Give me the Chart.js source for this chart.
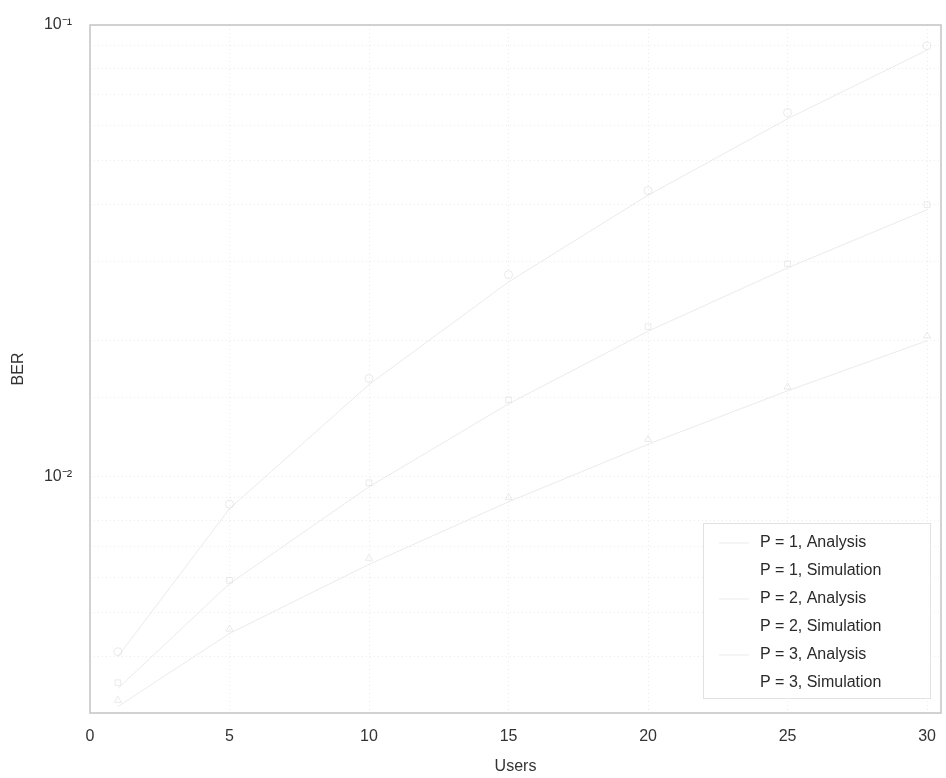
<!DOCTYPE html>
<html>
<head>
<meta charset="utf-8">
<script src="https://cdn.jsdelivr.net/npm/chart.js@4/dist/chart.umd.min.js"></script>
<style>
html,body{margin:0;padding:0;background:#fff;}
#wrap{width:946px;height:778px;}
</style>
</head>
<body>
<div id="wrap"><canvas id="c" width="946" height="778"></canvas></div>
<script>
const users = [1, 5, 10, 15, 20, 25, 30];
const p1Analysis   = [0.0040, 0.0085, 0.0160, 0.0270, 0.0420, 0.0620, 0.0880];
const p1Simulation = [0.0041, 0.0087, 0.0165, 0.0280, 0.0430, 0.0640, 0.0900];
const p2Analysis   = [0.0034, 0.0058, 0.0095, 0.0145, 0.0210, 0.0290, 0.0390];
const p2Simulation = [0.0035, 0.0059, 0.0097, 0.0148, 0.0215, 0.0296, 0.0400];
const p3Analysis   = [0.0031, 0.0045, 0.0064, 0.0088, 0.0118, 0.0155, 0.0200];
const p3Simulation = [0.0032, 0.0046, 0.0066, 0.0090, 0.0121, 0.0158, 0.0205];
const seriesNames = ['P = 1, Analysis','P = 1, Simulation','P = 2, Analysis','P = 2, Simulation','P = 3, Analysis','P = 3, Simulation'];
const xTicks = [0, 5, 10, 15, 20, 25, 30];
const yTickLabels = {0.1: '10⁻¹', 0.01: '10⁻²'};

const seriesValues = [p1Analysis, p1Simulation, p2Analysis, p2Simulation, p3Analysis, p3Simulation];
const lineColor = 'rgba(215,215,215,0.5)';
const datasets = seriesValues.map((vals, i) => {
  const sim = i % 2 === 1;
  return {
    label: seriesNames[i],
    data: users.map((u, k) => ({x: u, y: vals[k]})),
    borderColor: lineColor,
    backgroundColor: 'rgba(0,0,0,0)',
    borderWidth: 1,
    showLine: !sim,
    pointRadius: sim ? 4 : 0,
    pointStyle: ['circle','rect','triangle'][Math.floor(i/2)],
    pointBorderColor: lineColor,
    pointBorderWidth: 1
  };
});

const FONT = '"Liberation Sans", Arial, sans-serif';

const framePlugin = {
  id: 'frame',
  afterDraw(chart) {
    const ctx = chart.ctx, a = chart.chartArea;
    ctx.save();
    ctx.strokeStyle = '#c4c4c4';
    ctx.lineWidth = 1.5;
    ctx.strokeRect(a.left, a.top, a.right - a.left, a.bottom - a.top);
    // legend
    const bx = a.right - 238, by = a.bottom - 190, bw = 227, bh = 175;
    ctx.fillStyle = '#fff';
    ctx.fillRect(bx, by, bw, bh);
    ctx.strokeStyle = '#e2e2e2';
    ctx.lineWidth = 1;
    ctx.strokeRect(bx + 0.5, by + 0.5, bw, bh);
    ctx.font = '16px ' + FONT;
    ctx.textBaseline = 'middle';
    chart.data.datasets.forEach((ds, i) => {
      const y = by + 20 + i * 28;
      ctx.strokeStyle = ds.borderColor;
      if (ds.showLine) {
        ctx.beginPath();
        ctx.moveTo(bx + 16, y);
        ctx.lineTo(bx + 46, y);
        ctx.stroke();
      }
      ctx.fillStyle = '#2a2a2a';
      ctx.fillText(ds.label, bx + 57, y);
    });
    ctx.restore();
  }
};

new Chart(document.getElementById('c'), {
  type: 'scatter',
  data: { datasets },
  options: {
    responsive: false,
    animation: false,
    layout: { padding: { top: 25, right: 3, left: 9, bottom: 0 } },
    plugins: { legend: { display: false }, tooltip: { enabled: false } },
    scales: {
      x: {
        type: 'linear', min: 0, max: 30.5,
        afterBuildTicks(axis) { axis.ticks = xTicks.map(v => ({value: v})); },
        afterFit(scale) { scale.height = 65; scale.paddingLeft = 0; scale.paddingRight = 0; },
        grid: { color: '#ececec', drawTicks: false },
        border: { display: false, dash: [1, 3] },
        ticks: { font: { size: 16, family: FONT }, color: '#333', padding: 14, maxRotation: 0 },
        title: { display: true, text: 'Users', font: { size: 16, family: FONT }, color: '#333', padding: { top: 0, bottom: 2 } }
      },
      y: {
        type: 'logarithmic', min: 0.003, max: 0.1,
        afterFit(scale) { scale.width = 81; scale.paddingTop = 0; scale.paddingBottom = 0; },
        grid: { color: '#ececec', drawTicks: false },
        border: { display: false, dash: [1, 3] },
        ticks: {
          font: { size: 16, family: FONT }, color: '#333', padding: 18, autoSkip: false,
          callback(v) { return yTickLabels[Number(v.toPrecision(3))] || ''; }
        },
        title: { display: true, text: 'BER', font: { size: 16, family: FONT }, color: '#333', padding: { top: 0, bottom: 0 } }
      }
    }
  },
  plugins: [framePlugin]
});
</script>
</body>
</html>
